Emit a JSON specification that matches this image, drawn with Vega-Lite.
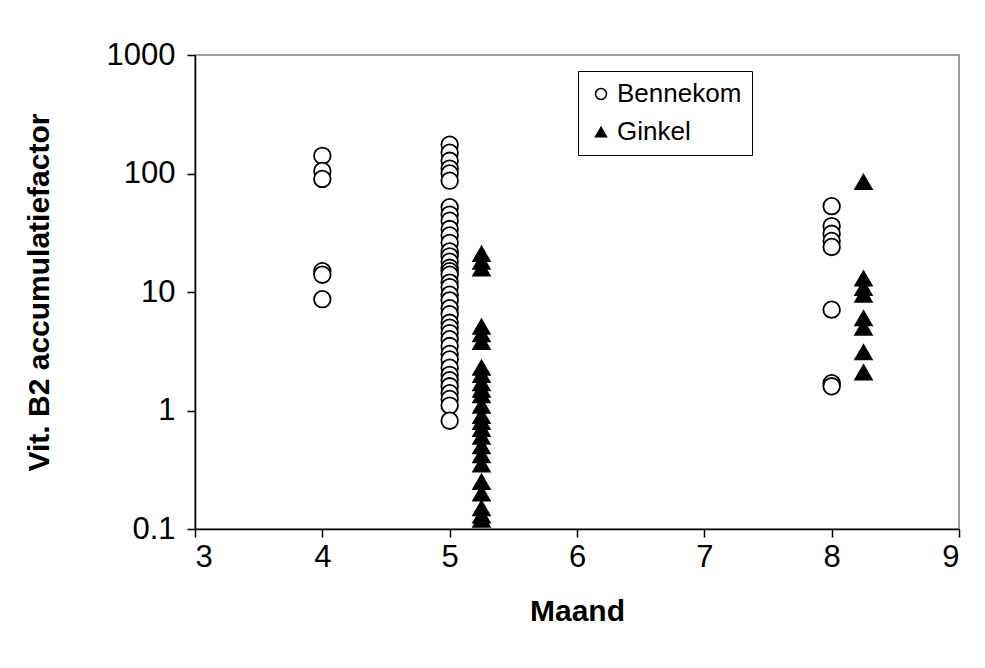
{
  "$schema": "https://vega.github.io/schema/vega-lite/v6.json",
  "width": 764,
  "height": 474,
  "autosize": {"type": "none"},
  "padding": {"left": 195, "top": 55, "right": 26, "bottom": 139},
  "background": "white",
  "config": {
    "font": "Liberation Sans",
    "view": {"stroke": "#808080", "strokeWidth": 1.5},
    "axis": {"grid": false, "domainColor": "black", "domainWidth": 1.5, "tickColor": "black", "tickWidth": 1.5, "tickSize": 8, "labelColor": "black", "titleColor": "black", "labelFont": "Liberation Sans", "titleFont": "Liberation Sans"}
  },
  "data": {
    "values": [
      {"Maand": 4, "Factor": 141, "Locatie": "Bennekom"},
      {"Maand": 4, "Factor": 105, "Locatie": "Bennekom"},
      {"Maand": 4, "Factor": 90, "Locatie": "Bennekom"},
      {"Maand": 4, "Factor": 15, "Locatie": "Bennekom"},
      {"Maand": 4, "Factor": 14, "Locatie": "Bennekom"},
      {"Maand": 4, "Factor": 8.7, "Locatie": "Bennekom"},
      {"Maand": 5, "Factor": 175, "Locatie": "Bennekom"},
      {"Maand": 5, "Factor": 150, "Locatie": "Bennekom"},
      {"Maand": 5, "Factor": 128, "Locatie": "Bennekom"},
      {"Maand": 5, "Factor": 110, "Locatie": "Bennekom"},
      {"Maand": 5, "Factor": 100, "Locatie": "Bennekom"},
      {"Maand": 5, "Factor": 87, "Locatie": "Bennekom"},
      {"Maand": 5, "Factor": 52, "Locatie": "Bennekom"},
      {"Maand": 5, "Factor": 45, "Locatie": "Bennekom"},
      {"Maand": 5, "Factor": 40, "Locatie": "Bennekom"},
      {"Maand": 5, "Factor": 34, "Locatie": "Bennekom"},
      {"Maand": 5, "Factor": 30, "Locatie": "Bennekom"},
      {"Maand": 5, "Factor": 26, "Locatie": "Bennekom"},
      {"Maand": 5, "Factor": 22, "Locatie": "Bennekom"},
      {"Maand": 5, "Factor": 20, "Locatie": "Bennekom"},
      {"Maand": 5, "Factor": 18, "Locatie": "Bennekom"},
      {"Maand": 5, "Factor": 16, "Locatie": "Bennekom"},
      {"Maand": 5, "Factor": 15, "Locatie": "Bennekom"},
      {"Maand": 5, "Factor": 14, "Locatie": "Bennekom"},
      {"Maand": 5, "Factor": 12, "Locatie": "Bennekom"},
      {"Maand": 5, "Factor": 11, "Locatie": "Bennekom"},
      {"Maand": 5, "Factor": 9.5, "Locatie": "Bennekom"},
      {"Maand": 5, "Factor": 8.5, "Locatie": "Bennekom"},
      {"Maand": 5, "Factor": 7.3, "Locatie": "Bennekom"},
      {"Maand": 5, "Factor": 6.5, "Locatie": "Bennekom"},
      {"Maand": 5, "Factor": 5.5, "Locatie": "Bennekom"},
      {"Maand": 5, "Factor": 5, "Locatie": "Bennekom"},
      {"Maand": 5, "Factor": 4.5, "Locatie": "Bennekom"},
      {"Maand": 5, "Factor": 4, "Locatie": "Bennekom"},
      {"Maand": 5, "Factor": 3.5, "Locatie": "Bennekom"},
      {"Maand": 5, "Factor": 3, "Locatie": "Bennekom"},
      {"Maand": 5, "Factor": 2.7, "Locatie": "Bennekom"},
      {"Maand": 5, "Factor": 2.3, "Locatie": "Bennekom"},
      {"Maand": 5, "Factor": 2, "Locatie": "Bennekom"},
      {"Maand": 5, "Factor": 1.8, "Locatie": "Bennekom"},
      {"Maand": 5, "Factor": 1.6, "Locatie": "Bennekom"},
      {"Maand": 5, "Factor": 1.4, "Locatie": "Bennekom"},
      {"Maand": 5, "Factor": 1.25, "Locatie": "Bennekom"},
      {"Maand": 5, "Factor": 1.1, "Locatie": "Bennekom"},
      {"Maand": 5, "Factor": 0.82, "Locatie": "Bennekom"},
      {"Maand": 8, "Factor": 53, "Locatie": "Bennekom"},
      {"Maand": 8, "Factor": 36, "Locatie": "Bennekom"},
      {"Maand": 8, "Factor": 31, "Locatie": "Bennekom"},
      {"Maand": 8, "Factor": 27, "Locatie": "Bennekom"},
      {"Maand": 8, "Factor": 24, "Locatie": "Bennekom"},
      {"Maand": 8, "Factor": 7.1, "Locatie": "Bennekom"},
      {"Maand": 8, "Factor": 1.7, "Locatie": "Bennekom"},
      {"Maand": 8, "Factor": 1.6, "Locatie": "Bennekom"},
      {"Maand": 5.25, "Factor": 21, "Locatie": "Ginkel"},
      {"Maand": 5.25, "Factor": 18, "Locatie": "Ginkel"},
      {"Maand": 5.25, "Factor": 15.8, "Locatie": "Ginkel"},
      {"Maand": 5.25, "Factor": 5.1, "Locatie": "Ginkel"},
      {"Maand": 5.25, "Factor": 4.4, "Locatie": "Ginkel"},
      {"Maand": 5.25, "Factor": 3.8, "Locatie": "Ginkel"},
      {"Maand": 5.25, "Factor": 2.3, "Locatie": "Ginkel"},
      {"Maand": 5.25, "Factor": 2.0, "Locatie": "Ginkel"},
      {"Maand": 5.25, "Factor": 1.7, "Locatie": "Ginkel"},
      {"Maand": 5.25, "Factor": 1.5, "Locatie": "Ginkel"},
      {"Maand": 5.25, "Factor": 1.35, "Locatie": "Ginkel"},
      {"Maand": 5.25, "Factor": 1.1, "Locatie": "Ginkel"},
      {"Maand": 5.25, "Factor": 0.9, "Locatie": "Ginkel"},
      {"Maand": 5.25, "Factor": 0.8, "Locatie": "Ginkel"},
      {"Maand": 5.25, "Factor": 0.7, "Locatie": "Ginkel"},
      {"Maand": 5.25, "Factor": 0.6, "Locatie": "Ginkel"},
      {"Maand": 5.25, "Factor": 0.5, "Locatie": "Ginkel"},
      {"Maand": 5.25, "Factor": 0.42, "Locatie": "Ginkel"},
      {"Maand": 5.25, "Factor": 0.35, "Locatie": "Ginkel"},
      {"Maand": 5.25, "Factor": 0.25, "Locatie": "Ginkel"},
      {"Maand": 5.25, "Factor": 0.2, "Locatie": "Ginkel"},
      {"Maand": 5.25, "Factor": 0.15, "Locatie": "Ginkel"},
      {"Maand": 5.25, "Factor": 0.13, "Locatie": "Ginkel"},
      {"Maand": 5.25, "Factor": 0.12, "Locatie": "Ginkel"},
      {"Maand": 8.25, "Factor": 85, "Locatie": "Ginkel"},
      {"Maand": 8.25, "Factor": 13, "Locatie": "Ginkel"},
      {"Maand": 8.25, "Factor": 10.8, "Locatie": "Ginkel"},
      {"Maand": 8.25, "Factor": 9.5, "Locatie": "Ginkel"},
      {"Maand": 8.25, "Factor": 6, "Locatie": "Ginkel"},
      {"Maand": 8.25, "Factor": 5, "Locatie": "Ginkel"},
      {"Maand": 8.25, "Factor": 3.1, "Locatie": "Ginkel"},
      {"Maand": 8.25, "Factor": 2.1, "Locatie": "Ginkel"}
    ]
  },
  "mark": {"type": "point", "stroke": "black", "strokeWidth": 1.8, "opacity": 1, "size": 275, "clip": false},
  "encoding": {
    "x": {
      "field": "Maand", "type": "quantitative",
      "scale": {"domain": [3, 9], "nice": false, "zero": false},
      "axis": {"title": "Maand", "values": [3, 4, 5, 6, 7, 8, 9], "format": "d", "labelFontSize": 31, "labelPadding": 5, "titleFontSize": 30, "titleFontWeight": "bold", "titlePadding": 24}
    },
    "y": {
      "field": "Factor", "type": "quantitative",
      "scale": {"type": "log", "domain": [0.1, 1000], "nice": false},
      "axis": {"title": "Vit. B2 accumulatiefactor", "values": [0.1, 1, 10, 100, 1000], "format": "~g", "labelFontSize": 31, "labelPadding": 12, "titleFontSize": 30, "titleFontWeight": "bold", "titlePadding": 52}
    },
    "shape": {
      "field": "Locatie", "type": "nominal",
      "scale": {"domain": ["Bennekom", "Ginkel"], "range": ["circle", "triangle-up"]},
      "legend": {"title": null, "orient": "none", "legendX": 383, "legendY": 16, "strokeColor": "black", "padding": 10, "labelFontSize": 26, "labelColor": "black", "labelFont": "Liberation Sans", "symbolSize": 120, "symbolStrokeWidth": 1.5, "rowPadding": 12, "labelOffset": 3, "fillColor": "white"}
    },
    "fill": {
      "field": "Locatie", "type": "nominal",
      "scale": {"domain": ["Bennekom", "Ginkel"], "range": ["white", "black"]},
      "legend": {"title": null, "orient": "none", "legendX": 383, "legendY": 16, "strokeColor": "black", "padding": 10, "labelFontSize": 26, "labelColor": "black", "labelFont": "Liberation Sans", "symbolSize": 120, "symbolStrokeWidth": 1.5, "rowPadding": 12, "labelOffset": 3, "fillColor": "white"}
    }
  }
}
